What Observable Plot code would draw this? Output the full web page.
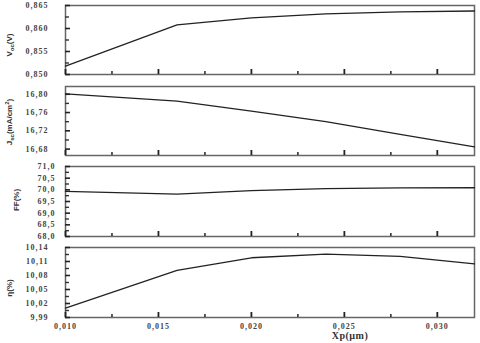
<!DOCTYPE html>
<html><head><meta charset="utf-8">
<script src="https://cdn.jsdelivr.net/npm/d3@7"></script>
<script src="https://cdn.jsdelivr.net/npm/@observablehq/plot@0.6"></script>
<style>
body{margin:0;background:#fff;}
#c{position:relative;width:480px;height:343px;overflow:hidden;background:#fff;}
#c > div{position:absolute;left:0;}
</style></head><body><div id="c"></div>
<script>
// data
const xp   = [0.010, 0.016, 0.020, 0.024, 0.028, 0.032];
const voc  = [0.8518, 0.8608, 0.8623, 0.8632, 0.8636, 0.8638];
const jsc  = [16.801, 16.785, 16.763, 16.740, 16.712, 16.685];
const ff   = [69.93, 69.82, 69.97, 70.05, 70.08, 70.09];
const eta  = [10.010, 10.091, 10.118, 10.126, 10.121, 10.105];

const xTicks = [0.010, 0.015, 0.020, 0.025, 0.030];
const xMinor = [0.0125, 0.0175, 0.0225, 0.0275];
const vocTicks = [0.850, 0.855, 0.860, 0.865];
const vocMinor = [0.8525, 0.8575, 0.8625];
const jscTicks = [16.68, 16.72, 16.76, 16.80];
const jscMinor = [16.70, 16.74, 16.78];
const ffTicks = [68.0, 68.5, 69.0, 69.5, 70.0, 70.5, 71.0];
const ffMinor = [68.25, 68.75, 69.25, 69.75, 70.25, 70.75];
const etaTicks = [9.99, 10.02, 10.05, 10.08, 10.11, 10.14];
const etaMinor = [10.005, 10.035, 10.065, 10.095, 10.125];

const comma = n => v => v.toFixed(n).replace(".", ",");
const font = {fontFamily: "'Liberation Serif', serif", fontSize: "8px", fontWeight: "bold", letterSpacing: "1px", color: "#444", background: "#fff"};

const W = 480, ML = 65, MR = 6;
const innerW = W - ML - MR;

const panels = [
  {top: 0,   height: 80,  mt: 5, mb: 6,  vals: voc, domain: [0.850, 0.865], ticks: vocTicks, minor: vocMinor, fmt: 3, pad: 17, title: "voc", ty: 45, tx: 12},
  {top: 80,  height: 80,  mt: 6, mb: 5,  vals: jsc, domain: [16.666, 16.817], ticks: jscTicks, minor: jscMinor, fmt: 2, pad: 17, title: "jsc", ty: 42, tx: 12},
  {top: 160, height: 80,  mt: 6, mb: 4,  vals: ff,  domain: [68.0, 71.0], ticks: ffTicks, minor: ffMinor, fmt: 1, pad: 10, title: "ff", ty: 40, tx: 19},
  {top: 240, height: 103, mt: 7, mb: 26, vals: eta, domain: [9.99, 10.14], ticks: etaTicks, minor: etaMinor, fmt: 2, pad: 17, title: "eta", ty: 48, tx: 12, bottom: true}
];

const container = document.getElementById("c");
for (const p of panels) {
  const innerH = p.height - p.mt - p.mb;
  const data = xp.map((x, i) => ({x, y: p.vals[i]}));
  const marks = [
    Plot.frame({stroke: "#666", strokeWidth: 1.5}),
    // inward tick marks on the left edge and bottom edge
    Plot.tickY(p.ticks, {y: d => d, insetRight: innerW - 5, stroke: "#222", strokeWidth: 1.6}),
    Plot.tickY(p.minor, {y: d => d, insetRight: innerW - 4, stroke: "#333", strokeWidth: 1.4}),
    Plot.tickX(xTicks, {x: d => d, insetTop: innerH - 5, stroke: "#222", strokeWidth: 1.8}),
    Plot.tickX(xMinor, {x: d => d, insetTop: innerH - 3, stroke: "#333", strokeWidth: 1.6}),
    Plot.axisY(p.ticks, {anchor: "left", tickSize: 0, tickPadding: p.pad, label: null, tickFormat: comma(p.fmt), fill: "#444"}),
    Plot.line(data, {x: "x", y: "y", stroke: "#222", strokeWidth: 1.3})
  ];
  if (p.bottom) {
    marks.push(Plot.axisX(xTicks, {anchor: "bottom", tickSize: 0, tickPadding: 6, label: null, tickFormat: comma(3), fill: "#444"}));
  }
  const chart = Plot.plot({
    width: W, height: p.height,
    marginLeft: ML, marginRight: MR, marginTop: p.mt, marginBottom: p.mb,
    style: font,
    x: {domain: [0.010, 0.032], axis: null},
    y: {domain: p.domain, axis: null},
    marks
  });
  const holder = document.createElement("div");
  holder.style.top = p.top + "px";
  holder.appendChild(chart);
  container.appendChild(holder);

  const svg = d3.select(chart);
  const t = svg.append("text")
    .attr("transform", `translate(${p.tx},${p.ty}) rotate(-90)`)
    .attr("text-anchor", "middle")
    .attr("fill", "#333")
    .style("font-family", "'Liberation Sans', sans-serif")
    .style("font-size", "8px")
    .style("letter-spacing", "0");
  if (p.title === "voc") {
    t.append("tspan").text("V");
    t.append("tspan").attr("font-size", "6px").attr("dy", 2).text("oc");
    t.append("tspan").attr("dy", -2).text("(V)");
  } else if (p.title === "jsc") {
    t.append("tspan").text("J");
    t.append("tspan").attr("font-size", "6px").attr("dy", 2).text("sc");
    t.append("tspan").attr("dy", -2).text("(mA/cm");
    t.append("tspan").attr("font-size", "6px").attr("dy", -3).text("2");
    t.append("tspan").attr("dy", 3).text(")");
  } else if (p.title === "ff") {
    t.text("FF(%)");
  } else {
    t.text("η(%)");
  }
  if (p.bottom) {
    svg.append("text")
      .attr("x", 350).attr("y", 99)
      .attr("text-anchor", "middle")
      .attr("fill", "#333")
      .style("font-family", "'Liberation Serif', serif")
      .style("font-size", "10px")
      .style("font-weight", "bold")
      .style("letter-spacing", "0.5px")
      .text("Xp(µm)");
  }
}
</script>
</body></html>
